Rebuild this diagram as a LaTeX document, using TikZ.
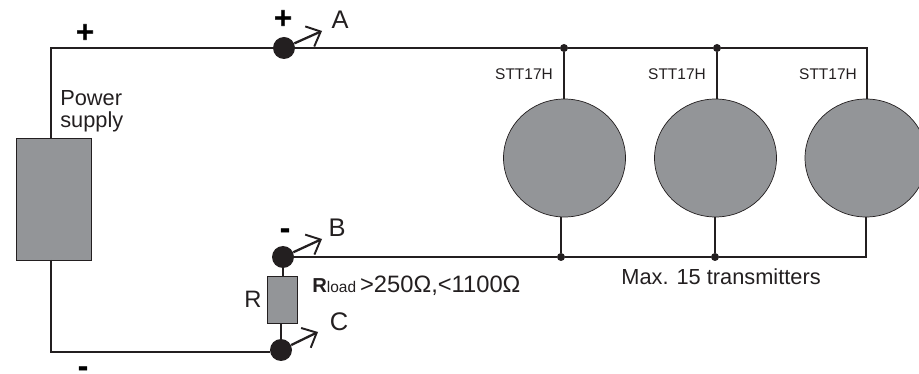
\documentclass[tikz,border=0pt]{standalone}
\usepackage{fontspec}
\setmainfont{Liberation Sans}
\newfontfamily\signfont[FakeBold=2.5]{DejaVu Sans Bold}
\usepackage{tikz}
\usetikzlibrary{arrows.meta, shapes.geometric}
\definecolor{wirecol}{HTML}{231F20}
\definecolor{bodycol}{HTML}{939598}
\tikzset{
    wire/.style={draw=wirecol, line width=0.9pt},
    probe/.style={draw=wirecol, line width=1.3pt, -{Straight Barb[length=2.4mm, width=4.4mm, line width=1.1pt]}},
    body/.style={rectangle, draw=wirecol, line width=0.4pt, fill=bodycol, inner sep=0pt},
    transmitter/.style={ellipse, draw=wirecol, line width=0.4pt, fill=bodycol, inner sep=0pt, minimum width=2.44cm, minimum height=2.36cm},
    terminal/.style={circle, fill=wirecol, inner sep=0pt, minimum size=0.44cm},
    junction/.style={circle, fill=wirecol, inner sep=0pt, minimum size=0.16cm},
    sign/.style={text=black, inner sep=0pt, font=\signfont\fontsize{14}{14}\selectfont},
    letter/.style={text=wirecol, inner sep=0pt, font=\fontsize{14.5}{16}\selectfont},
    label/.style={text=wirecol, inner sep=0pt, font=\fontsize{12.4}{12.4}\selectfont},
    type/.style={text=wirecol, inner sep=0pt, font=\fontsize{8.8}{10}\selectfont}
}
\begin{document}
\begin{tikzpicture}[x=0.02cm, y=-0.02cm]
    \clip (0,0) rectangle (919,374);

    % supply and load
    \node[body, minimum width=1.5cm, minimum height=2.44cm] (supply) at (53.5,199) {};
    \node[body, minimum width=0.6cm, minimum height=0.94cm] (rload) at (282,299.5) {};

    % transmitters
    \node[transmitter] (tx1) at (564.5,158) {};
    \node[transmitter] (tx2) at (715.5,158) {};
    \node[transmitter] (tx3) at (866,158) {};

    % terminals
    \node[terminal] (termA) at (284,48) {};
    \node[terminal] (termB) at (283,257) {};
    \node[terminal] (termC) at (281,350) {};

    \node[junction] (top1) at (564,48) {};
    \node[junction] (top2) at (717,48) {};
    \node[junction] (bot1) at (561,257) {};
    \node[junction] (bot2) at (715,257) {};

    \coordinate (supplyT) at (51,138);
    \coordinate (supplyB) at (51,260);
    \coordinate (cornerT) at (51,48);
    \coordinate (cornerB) at (51,352);
    \coordinate (endT) at (867,48);
    \coordinate (endB) at (866,257);
    \coordinate (tipA) at (322,31);
    \coordinate (tipB) at (322,239);
    \coordinate (tipC) at (318,332);

    % wires
    \draw[wire] (supplyT) -- (cornerT) -- (termA) -- (top1) -- (top2) -- (endT) -- (endT |- tx3.north);
    \draw[wire] (supplyB) -- (cornerB) -- (cornerB -| termC.west);
    \draw[wire] (termB) -- (bot1) -- (bot2) -- (endB) -- (endB |- tx3.south);
    \draw[wire] (top1) -- (top1 |- tx1.north);
    \draw[wire] (top2) -- (top2 |- tx2.north);
    \draw[wire] (bot1) -- (bot1 |- tx1.south);
    \draw[wire] (bot2) -- (bot2 |- tx2.south);
    \draw[wire] (termB) -- (termB |- rload.north);
    \draw[wire] (termC) -- (termC |- rload.south);

    % probes
    \draw[probe] (termA) -- (tipA);
    \draw[probe] (termB) -- (tipB);
    \draw[probe] (termC) -- (tipC);

    % labels
    \node[letter] (labA) at (340,20) {A};
    \node[letter] (labB) at (337,228) {B};
    \node[letter] (labC) at (339,322) {C};
    \node[letter, font=\fontsize{13.5}{16}\selectfont] (labR) at (253,299) {R};
    \node[sign] (plusL) at (85,32) {+};
    \node[sign] (plusA) at (283,18) {+};
    \node[sign] (minusB) at (285,233) {-};
    \node[sign] (minusL) at (83,371) {-};
    \node[label, align=left, anchor=north west] (power) at (60,90) {Power\\supply};
    \node[type] (name1) at (524,74) {STT17H};
    \node[type] (name2) at (677,74) {STT17H};
    \node[type] (name3) at (828,74) {STT17H};
    \node[label, anchor=west] (maxtx) at (621,277) {Max. 15 transmitters};
    \node[label, anchor=west, font=\fontsize{13.5}{15}\selectfont] (range) at (312,286) {{\fontsize{11.5}{12}\selectfont\bfseries R}{\fontsize{8.8}{10}\selectfont load}\,>250Ω,<1100Ω};
\end{tikzpicture}
\end{document}
